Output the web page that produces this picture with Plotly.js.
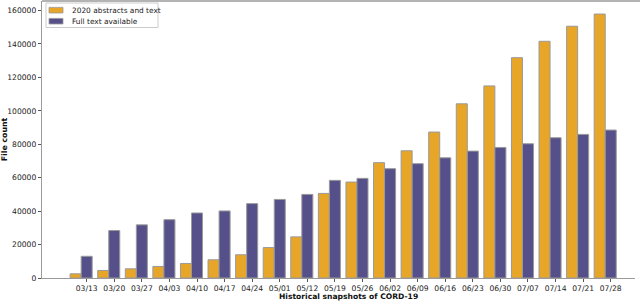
<!DOCTYPE html>
<html>
<head>
<meta charset="utf-8">
<script src="https://cdn.plot.ly/plotly-3.0.1.min.js"></script>
<style>html,body{margin:0;padding:0;background:#fff}#chart{width:640px;height:301px}</style>
</head>
<body>
<div id="chart"></div>
<script>
var snapshots = ["03/13","03/20","03/27","04/03","04/10","04/17","04/24","05/01","05/12","05/19","05/26","06/02","06/09","06/16","06/23","06/30","07/07","07/14","07/21","07/28"];
var abstracts2020 = [2500,4500,5500,6900,8700,10900,13900,18200,24600,50600,57400,69000,76100,87300,104200,114900,131800,141600,150600,157900];
var fullText = [13000,28400,31800,34900,38900,40100,44500,47000,50000,58400,59600,65400,68400,71900,75900,78100,80300,83900,85900,88500];
var seriesNames = ['2020 abstracts and text', 'Full text available'];
var seriesColors = ['#E8A628', '#56508A'];
var idx = snapshots.map(function(_, i){ return i; });

var W = 640, H = 301, ML = 42, MR = 5, MT = 1, MB = 23;
var PW = W - ML - MR, PH = H - MT - MB;
function px(x){ return (x - ML) / PW; }
function py(y){ return (H - MB - y) / PH; }

var edge = {color: '#9a9a9a', width: 1};
var traces = [
  {type: 'bar', name: seriesNames[0], x: idx, y: abstracts2020,
   offset: -0.6, width: 0.4, marker: {color: seriesColors[0], line: edge}},
  {type: 'bar', name: seriesNames[1], x: idx, y: fullText,
   offset: -0.2, width: 0.4, marker: {color: seriesColors[1], line: edge}}
];

var font = {family: 'DejaVu Sans, sans-serif', size: 7.6, color: '#222'};
var shapes = [
  {type: 'line', xref: 'paper', yref: 'paper', x0: 0, x1: 1.01, y0: 1, y1: 1,
   line: {color: '#9a9a9a', width: 1.5}},
  {type: 'rect', xref: 'paper', yref: 'paper', x0: px(46), x1: px(158), y0: py(3), y1: py(27.5),
   fillcolor: 'rgba(255,255,255,0.9)', line: {color: '#cccccc', width: 1}}
];
var annotations = [
  {text: '<b>Historical snapshots of CORD-19</b>', xref: 'paper', yref: 'paper',
   x: px(348), y: py(296), xanchor: 'center', yanchor: 'middle', showarrow: false,
   font: {family: 'DejaVu Sans, sans-serif', size: 7.6, color: '#111'}}
];
var rowY = [10.2, 21.2];
seriesNames.forEach(function(n, i){
  shapes.push({type: 'rect', xref: 'paper', yref: 'paper', x0: px(49), x1: px(63),
    y0: py(rowY[i] - 2.8), y1: py(rowY[i] + 2.8), fillcolor: seriesColors[i],
    line: {color: '#9a9a9a', width: 0.8}});
  annotations.push({text: n, xref: 'paper', yref: 'paper', x: px(69.5), y: py(rowY[i]),
    xanchor: 'left', yanchor: 'middle', showarrow: false,
    font: {family: 'DejaVu Sans, sans-serif', size: 7.4, color: '#222'}});
});

var layout = {
  width: W, height: H,
  margin: {l: ML, r: MR, t: MT, b: MB},
  paper_bgcolor: '#fff', plot_bgcolor: '#fff',
  font: font,
  showlegend: false,
  xaxis: {
    tickmode: 'array', tickvals: idx, ticktext: snapshots,
    range: [-1.62, 19.88], showgrid: false, zeroline: false,
    showline: true, linecolor: '#9a9a9a', linewidth: 1.2, mirror: false,
    ticks: 'outside', ticklen: 2.5, tickcolor: '#555', tickfont: font
  },
  yaxis: {
    range: [0, 165700], dtick: 20000, tickformat: 'd',
    showgrid: false, zeroline: false,
    showline: true, linecolor: '#9a9a9a', linewidth: 1.2,
    ticks: 'outside', ticklen: 3, tickcolor: '#555', tickfont: font,
    title: {text: '<b>File count</b>', font: {family: 'DejaVu Sans, sans-serif', size: 7.8, color: '#111'}, standoff: 6}
  },
  shapes: shapes,
  annotations: annotations
};
Plotly.newPlot('chart', traces, layout, {displayModeBar: false, staticPlot: true});
</script>
</body>
</html>
